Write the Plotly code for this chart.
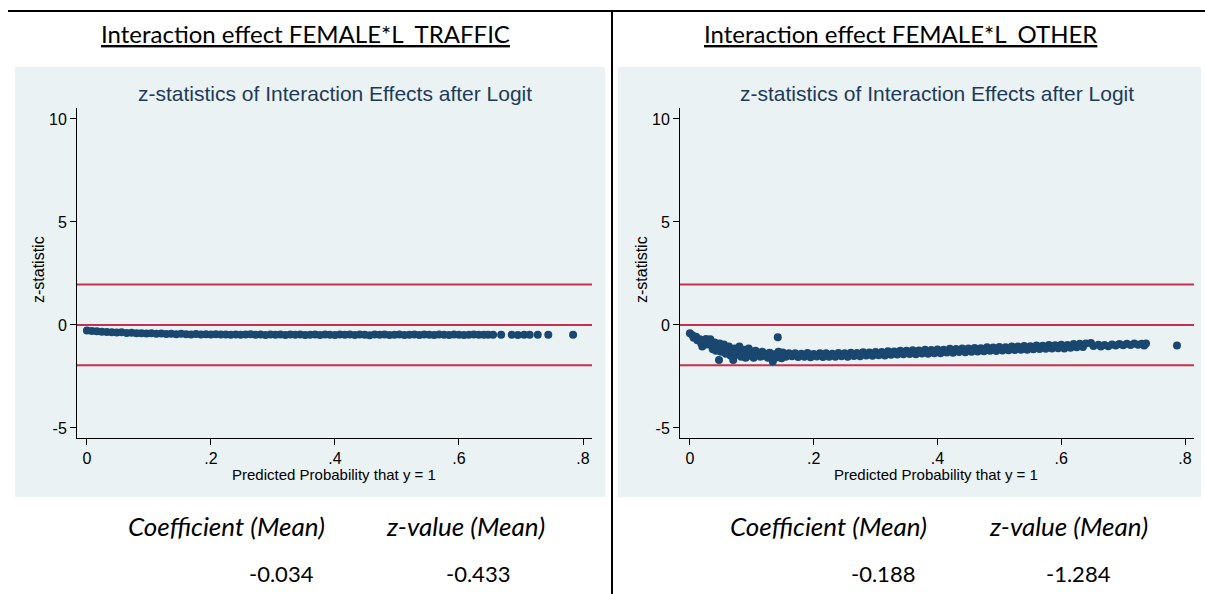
import plotly.graph_objects as go

# Panel titles and summary numbers
panel_titles = ['Interaction effect FEMALE*L_TRAFFIC', 'Interaction effect FEMALE*L_OTHER']
coef_mean = ['-0.034', '-0.188']
zval_mean = ['-0.433', '-1.284']

# Reference lines (z = +/-1.96 and 0)
ref_lines = [1.96, 0, -1.96]
grid_lines = [10, 5, -5]

x_ticks = [0, 0.2, 0.4, 0.6, 0.8]
x_ticktext = ['0', '.2', '.4', '.6', '.8']
y_ticks = [-5, 0, 5, 10]
y_ticktext = ['-5', '0', '5', '10']

# Left panel: FEMALE*L_TRAFFIC, predicted probability vs z-statistic
left_prob = [
    0.000, 0.008, 0.016, 0.024, 0.032, 0.040, 0.048, 0.056, 0.064, 0.072,
    0.080, 0.088, 0.096, 0.104, 0.112, 0.120, 0.128, 0.136, 0.144, 0.152,
    0.160, 0.168, 0.176, 0.184, 0.192, 0.200, 0.208, 0.216, 0.224, 0.232,
    0.240, 0.248, 0.256, 0.264, 0.272, 0.280, 0.288, 0.296, 0.304, 0.312,
    0.320, 0.328, 0.336, 0.344, 0.352, 0.360, 0.368, 0.376, 0.384, 0.392,
    0.400, 0.408, 0.416, 0.424, 0.432, 0.440, 0.448, 0.456, 0.464, 0.472,
    0.480, 0.488, 0.496, 0.504, 0.512, 0.520, 0.528, 0.536, 0.544, 0.552,
    0.560, 0.568, 0.576, 0.584, 0.592, 0.600, 0.608, 0.616, 0.624, 0.632,
    0.640,
    0.647, 0.655, 0.668, 0.685, 0.695, 0.705, 0.714, 0.727, 0.744, 0.784,
]
left_z = [
    -0.27, -0.29, -0.31, -0.33, -0.34, -0.36, -0.37, -0.36, -0.39, -0.38,
    -0.41, -0.40, -0.42, -0.41, -0.43, -0.42, -0.44, -0.43, -0.45, -0.43,
    -0.45, -0.46, -0.44, -0.46, -0.45, -0.47, -0.45, -0.47, -0.46, -0.48,
    -0.46, -0.48, -0.47, -0.45, -0.48, -0.46, -0.49, -0.47, -0.48, -0.46,
    -0.49, -0.47, -0.48, -0.46, -0.49, -0.48, -0.47, -0.49, -0.46, -0.48,
    -0.49, -0.47, -0.48, -0.46, -0.49, -0.47, -0.48, -0.50, -0.47, -0.48,
    -0.46, -0.49, -0.48, -0.47, -0.49, -0.48, -0.46, -0.49, -0.47, -0.48,
    -0.49, -0.47, -0.48, -0.49, -0.47, -0.48, -0.49, -0.48, -0.47, -0.48,
    -0.48,
    -0.48, -0.48, -0.48, -0.48, -0.49, -0.48, -0.48, -0.48, -0.48, -0.48,
]

# Right panel: FEMALE*L_OTHER
right_prob_low = [
    0.000, 0.004, 0.006, 0.010, 0.012, 0.016, 0.018, 0.020, 0.022, 0.026,
    0.028, 0.030, 0.033, 0.035, 0.037, 0.040, 0.042, 0.045, 0.047, 0.048,
    0.050, 0.053, 0.055, 0.058, 0.060, 0.063, 0.066, 0.068, 0.070, 0.072,
    0.075, 0.078, 0.080, 0.083, 0.085, 0.088, 0.090, 0.093, 0.095, 0.098,
    0.100, 0.103, 0.106, 0.108, 0.111, 0.114, 0.117, 0.120, 0.123, 0.126,
    0.129, 0.132, 0.134, 0.137, 0.140, 0.142, 0.143, 0.146, 0.148,
]
right_z_low = [
    -0.40, -0.50, -0.62, -0.58, -0.75, -0.70, -0.88, -1.05, -0.78, -0.68,
    -0.95, -0.82, -0.70, -1.00, -1.18, -0.85, -1.25, -1.05, -1.70, -0.90,
    -1.30, -1.10, -0.95, -1.40, -1.20, -1.05, -1.50, -1.30, -1.70, -1.15,
    -1.45, -1.25, -1.05, -1.55, -1.35, -1.20, -1.60, -1.40, -1.15, -1.50,
    -1.30, -1.60, -1.25, -1.45, -1.35, -1.55, -1.30, -1.50, -1.40, -1.60,
    -1.35, -1.50, -1.78, -1.42, -1.58, -0.60, -1.30, -1.48, -1.62,
]
right_prob_mid_a = [
    0.150, 0.160, 0.170, 0.180, 0.190, 0.200, 0.210, 0.220, 0.230, 0.240,
    0.250, 0.260, 0.270, 0.280, 0.290, 0.300, 0.310, 0.320, 0.330, 0.340,
    0.350, 0.360, 0.370, 0.380, 0.390, 0.400, 0.410, 0.420, 0.430, 0.440,
    0.450, 0.460, 0.470, 0.480, 0.490, 0.500, 0.510, 0.520, 0.530, 0.540,
    0.550, 0.560, 0.570, 0.580, 0.590, 0.600, 0.610, 0.620, 0.630, 0.640,
]
right_z_mid_a = [
    -1.34, -1.38, -1.37, -1.40, -1.36, -1.41, -1.38, -1.37, -1.40, -1.36,
    -1.38, -1.35, -1.36, -1.33, -1.34, -1.31, -1.32, -1.28, -1.29, -1.25,
    -1.26, -1.23, -1.24, -1.21, -1.22, -1.19, -1.20, -1.16, -1.17, -1.14,
    -1.15, -1.12, -1.13, -1.09, -1.10, -1.07, -1.08, -1.05, -1.05, -1.02,
    -1.03, -1.00, -1.01, -0.98, -0.99, -0.96, -0.97, -0.93, -0.92, -0.90,
]
right_prob_mid_b = [
    0.155, 0.165, 0.175, 0.185, 0.195, 0.205, 0.215, 0.225, 0.235, 0.245,
    0.255, 0.265, 0.275, 0.285, 0.295, 0.305, 0.315, 0.325, 0.335, 0.345,
    0.355, 0.365, 0.375, 0.385, 0.395, 0.405, 0.415, 0.425, 0.435, 0.445,
    0.455, 0.465, 0.475, 0.485, 0.495, 0.505, 0.515, 0.525, 0.535, 0.545,
    0.555, 0.565, 0.575, 0.585, 0.595, 0.605, 0.615, 0.625, 0.635,
]
right_z_mid_b = [
    -1.55, -1.52, -1.56, -1.54, -1.57, -1.53, -1.56, -1.54, -1.55, -1.52,
    -1.54, -1.51, -1.52, -1.49, -1.50, -1.47, -1.48, -1.45, -1.44, -1.43,
    -1.41, -1.42, -1.39, -1.40, -1.37, -1.38, -1.34, -1.35, -1.32, -1.33,
    -1.30, -1.29, -1.28, -1.26, -1.27, -1.24, -1.23, -1.22, -1.20, -1.21,
    -1.18, -1.17, -1.16, -1.15, -1.13, -1.14, -1.11, -1.09, -1.07,
]
right_prob_high = [
    0.648, 0.652, 0.660, 0.664, 0.670, 0.676, 0.682, 0.688, 0.694, 0.700,
    0.706, 0.712, 0.718, 0.724, 0.730, 0.734, 0.737, 0.787,
]
right_z_high = [
    -0.88, -1.02, -0.96, -1.05, -0.98, -1.03, -0.95, -1.00, -0.93, -0.99,
    -0.92, -0.97, -0.90, -0.96, -0.92, -1.00, -0.90, -1.00,
]

right_prob = right_prob_low + right_prob_mid_a + right_prob_mid_b + right_prob_high
right_z = right_z_low + right_z_mid_a + right_z_mid_b + right_z_high

W, H = 1205, 594
NAVY = '#1a476f'
RED = '#c4304f'
PANEL = '#eaf2f3'
TITLE_BLUE = '#1e3a5a'
ARIAL = 'Liberation Sans, Arial, sans-serif'
CALIBRI = 'Lato, Carlito, Calibri, sans-serif'


def px_x(p):
    return p / W


def px_y(p):
    return 1 - p / H


fig = go.Figure()

fig.add_trace(go.Scatter(
    x=left_prob, y=left_z, mode='markers',
    marker=dict(size=8, color=NAVY),
    xaxis='x', yaxis='y', showlegend=False,
    hovertemplate='p=%{x}<br>z=%{y}<extra></extra>'
))
fig.add_trace(go.Scatter(
    x=right_prob, y=right_z, mode='markers',
    marker=dict(size=8, color=NAVY),
    xaxis='x2', yaxis='y2', showlegend=False,
    hovertemplate='p=%{x}<br>z=%{y}<extra></extra>'
))

xaxis_common = dict(
    range=[-0.016, 0.8145], tickvals=x_ticks, ticktext=x_ticktext,
    ticks='outside', ticklen=6, tickcolor='#000', showline=True,
    linecolor='#000', linewidth=1, showgrid=False, zeroline=False,
    tickfont=dict(family=ARIAL, size=16, color='#000'), fixedrange=True
)
yaxis_common = dict(
    range=[-5.49, 10.53], tickvals=y_ticks, ticktext=y_ticktext,
    ticks='outside', ticklen=6, tickcolor='#000', showline=True,
    linecolor='#000', linewidth=1, showgrid=False,
    zeroline=False, tickfont=dict(family=ARIAL, size=16, color='#000'),
    domain=[px_y(438), px_y(108)], fixedrange=True
)

# panel geometry in pixels
panels = [
    dict(x0=15, x1=605, px0=77, px1=592, title_x=305, sub_x=335,
         coef_x=226, zv_x=465, coef_v=281, zv_v=478),
    dict(x0=618, x1=1201, px0=680, px1=1194, title_x=900, sub_x=937,
         coef_x=828, zv_x=1068, coef_v=883, zv_v=1078),
]

shapes = []
annotations = []
for i, p in enumerate(panels):
    xa = 'x' if i == 0 else 'x2'
    ya = 'y' if i == 0 else 'y2'
    # light background panel
    shapes.append(dict(type='rect', xref='paper', yref='paper',
                       x0=px_x(p['x0']), x1=px_x(p['x1']),
                       y0=px_y(497), y1=px_y(67),
                       fillcolor=PANEL, line=dict(width=0), layer='below'))
    for v in grid_lines:
        shapes.append(dict(type='line', xref=xa + ' domain', yref=ya,
                           x0=0, x1=1, y0=v, y1=v,
                           line=dict(color='#eef3f5', width=1), layer='below'))
    for v in ref_lines:
        shapes.append(dict(type='line', xref=xa + ' domain', yref=ya,
                           x0=0, x1=1, y0=v, y1=v,
                           line=dict(color=RED, width=2), layer='below'))
    annotations += [
        dict(text='<u>' + panel_titles[i] + '</u>', x=px_x(p['title_x']), y=px_y(34),
             font=dict(family=CALIBRI, size=24, color='#000')),
        dict(text='z-statistics of Interaction Effects after Logit',
             x=px_x(p['sub_x']), y=px_y(93),
             font=dict(family=ARIAL, size=21, color=TITLE_BLUE)),
        dict(text='z-statistic', x=px_x(p['px0'] - 39), y=px_y(270), textangle=-90,
             font=dict(family=ARIAL, size=16, color='#000')),
        dict(text='Predicted Probability that y = 1',
             x=px_x((p['px0'] + p['px1']) / 2 - 1), y=px_y(474),
             font=dict(family=ARIAL, size=15, color='#000')),
        dict(text='<i>Coefficient (Mean)</i>', x=px_x(p['coef_x']), y=px_y(526),
             font=dict(family=CALIBRI, size=26, color='#000')),
        dict(text='<i>z-value (Mean)</i>', x=px_x(p['zv_x']), y=px_y(526),
             font=dict(family=CALIBRI, size=26, color='#000')),
        dict(text=coef_mean[i], x=px_x(p['coef_v']), y=px_y(573),
             font=dict(family=CALIBRI, size=22, color='#000')),
        dict(text=zval_mean[i], x=px_x(p['zv_v']), y=px_y(573),
             font=dict(family=CALIBRI, size=22, color='#000')),
    ]

for a in annotations:
    a.update(xref='paper', yref='paper', showarrow=False,
             xanchor='center', yanchor='middle')

# black frame lines
shapes.append(dict(type='line', xref='paper', yref='paper',
                   x0=px_x(8), x1=1, y0=px_y(11), y1=px_y(11),
                   line=dict(color='#000', width=2)))
shapes.append(dict(type='line', xref='paper', yref='paper',
                   x0=px_x(612), x1=px_x(612), y0=0, y1=px_y(11),
                   line=dict(color='#000', width=2)))

fig.update_layout(
    width=W, height=H,
    margin=dict(l=0, r=0, t=0, b=0),
    paper_bgcolor='white', plot_bgcolor='white',
    xaxis=dict(xaxis_common, domain=[px_x(77), px_x(592)], anchor='y'),
    yaxis=dict(yaxis_common, anchor='x'),
    xaxis2=dict(xaxis_common, domain=[px_x(680), px_x(1194)], anchor='y2'),
    yaxis2=dict(yaxis_common, anchor='x2'),
    shapes=shapes,
    annotations=annotations,
    showlegend=False,
)

# page body has a default 8px margin; drop it so the figure fills the window
fig.write_html('out.html', config={'displayModeBar': False},
               post_script="document.body.style.margin='0';")
